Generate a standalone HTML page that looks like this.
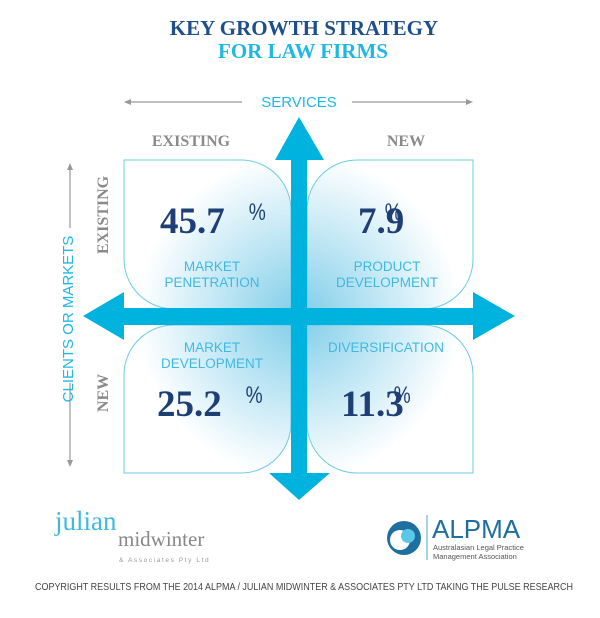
<!DOCTYPE html>
<html><head><meta charset="utf-8">
<style>html,body{margin:0;padding:0;background:#fff;}svg{display:block;}</style></head>
<body>
<svg width="600" height="618" viewBox="0 0 600 618" xmlns="http://www.w3.org/2000/svg">
<defs>
<radialGradient id="g" cx="299" cy="316" r="190" gradientUnits="userSpaceOnUse">
<stop offset="0" stop-color="#7fcde8"/><stop offset="0.45" stop-color="#c4e8f5"/><stop offset="0.85" stop-color="#ffffff"/></radialGradient>
</defs>
<g>
<text x="304" y="35" text-anchor="middle" font-family="Liberation Serif, serif" font-weight="bold" font-size="21" fill="#1f4f8a">KEY GROWTH STRATEGY</text>
<text x="303" y="58" text-anchor="middle" font-family="Liberation Serif, serif" font-weight="bold" font-size="21" fill="#1fb8e4">FOR LAW FIRMS</text>
</g>
<g stroke="#999" stroke-width="1.2" fill="#999">
<line x1="126" y1="102" x2="242" y2="102"/><polygon points="124,102 131,99 131,105" stroke="none"/>
<line x1="352" y1="102" x2="470" y2="102"/><polygon points="473,102 466,99 466,105" stroke="none"/>
<line x1="70" y1="166" x2="70" y2="228"/><polygon points="70,163 67,170 73,170" stroke="none"/>
<line x1="70" y1="383" x2="70" y2="464"/><polygon points="70,467 67,460 73,460" stroke="none"/>
</g>
<text x="299" y="107" text-anchor="middle" font-family="Liberation Sans, sans-serif" font-size="15" fill="#1fb8e4">SERVICES</text>
<text transform="translate(73,319) rotate(-90)" text-anchor="middle" font-family="Liberation Sans, sans-serif" font-size="15" fill="#1fb8e4">CLIENTS OR MARKETS</text>
<g font-family="Liberation Serif, serif" font-weight="bold" font-size="16" fill="#8a8a8a">
<text x="191" y="146" text-anchor="middle">EXISTING</text>
<text x="406" y="146" text-anchor="middle">NEW</text>
<text transform="translate(108,215) rotate(-90)" text-anchor="middle">EXISTING</text>
<text transform="translate(108,393) rotate(-90)" text-anchor="middle">NEW</text>
</g>
<g stroke="#6ccbea" stroke-width="1" fill="url(#g)">
<path d="M124,160 H241 A50,50 0 0 1 291,210 V309 H174 A50,50 0 0 1 124,259 Z"/>
<path d="M473,160 H357 A50,50 0 0 0 307,210 V309 H423 A50,50 0 0 0 473,259 Z"/>
<path d="M124,473 H241 A50,50 0 0 0 291,423 V325 H174 A50,50 0 0 0 124,375 Z"/>
<path d="M473,473 H357 A50,50 0 0 1 307,423 V325 H423 A50,50 0 0 1 473,375 Z"/>
</g>
<g fill="#00b3de">
<rect x="291" y="158" width="16" height="317"/>
<rect x="122" y="308" width="353" height="17"/>
<polygon points="299,117 324,160 275,160"/>
<polygon points="299,500 330,473 269,473"/>
<polygon points="83,316 124,292 124,340"/>
<polygon points="515,316 473,292 473,340"/>
</g>
<g font-family="Liberation Serif, serif" font-weight="bold" font-size="37" fill="#1d3f75">
<text x="160" y="233">45.7</text>
<text x="358" y="233">7.9</text>
<text x="157" y="416">25.2</text>
<text x="341" y="416">11.3</text>
</g>
<g font-family="Liberation Sans, sans-serif" font-size="24" fill="#1d3f75" transform="scale(0.8,1)">
<text x="311" y="220">%</text><text x="481" y="220">%</text><text x="307" y="403">%</text><text x="492" y="403">%</text>
</g>
<g font-family="Liberation Sans, sans-serif" font-size="13.5" fill="#3fb9e2" text-anchor="middle">
<text x="212" y="271">MARKET</text><text x="212" y="287">PENETRATION</text>
<text x="387" y="271">PRODUCT</text><text x="387" y="287">DEVELOPMENT</text>
<text x="212" y="352">MARKET</text><text x="212" y="368">DEVELOPMENT</text>
<text x="386" y="352">DIVERSIFICATION</text>
</g>
<g>
<text x="55" y="530" font-family="Liberation Serif, serif" font-size="27" fill="#3fb9e2">julian</text>
<text x="118" y="546" font-family="Liberation Serif, serif" font-size="21" fill="#888">midwinter</text>
<text x="119" y="562" font-family="Liberation Sans, sans-serif" font-size="6.5" letter-spacing="1.6" fill="#999">&amp; Associates Pty Ltd</text>
</g>
<g>
<circle cx="404" cy="538" r="17" fill="#1e6fa0"/>
<circle cx="400" cy="540" r="10" fill="#fff"/>
<circle cx="408" cy="536" r="7" fill="#5ac8e6"/>
<line x1="427" y1="515" x2="427" y2="560" stroke="#4aa8d0" stroke-width="1"/>
<text x="432" y="538" font-family="Liberation Sans, sans-serif" font-size="26" fill="#1e6fa0">ALPMA</text>
<text x="433" y="550" font-family="Liberation Sans, sans-serif" font-size="7.5" fill="#555">Australasian Legal Practice</text>
<text x="433" y="559" font-family="Liberation Sans, sans-serif" font-size="7.5" fill="#555">Management Association</text>
</g>
<text x="304" y="590" text-anchor="middle" font-family="Liberation Sans, sans-serif" font-size="10" fill="#444" textLength="538" lengthAdjust="spacingAndGlyphs">COPYRIGHT RESULTS FROM THE 2014 ALPMA / JULIAN MIDWINTER &amp; ASSOCIATES PTY LTD TAKING THE PULSE RESEARCH</text>
</svg>
</body></html>
